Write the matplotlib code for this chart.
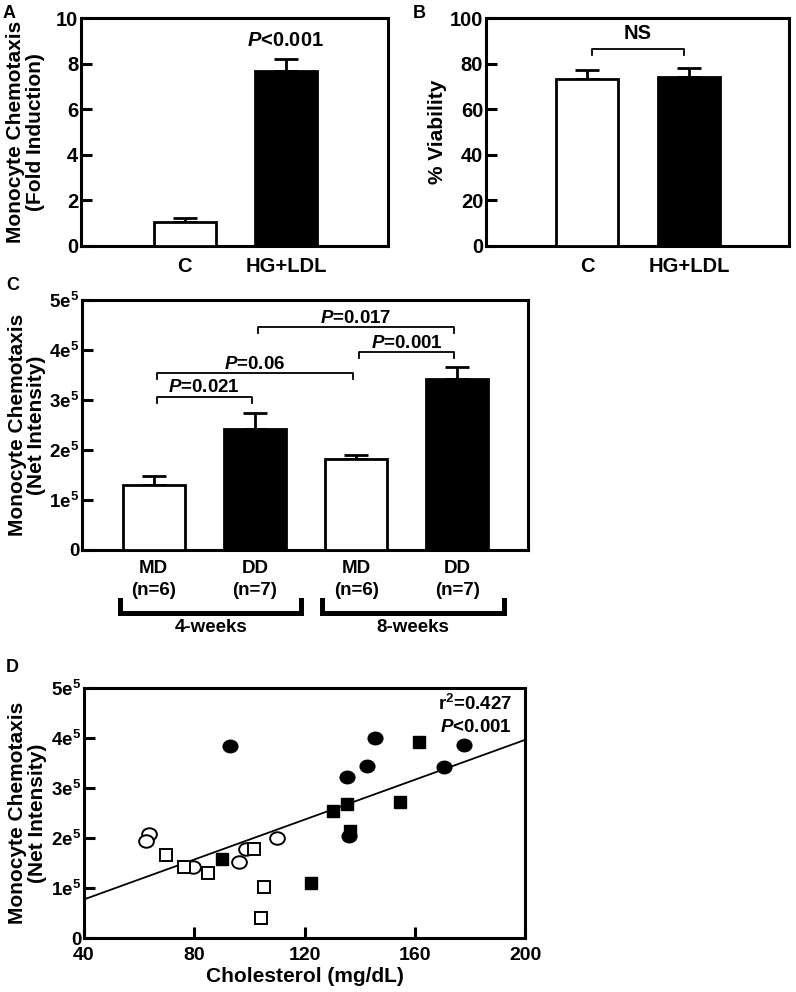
import matplotlib
matplotlib.use("Agg")
import matplotlib.pyplot as plt
from matplotlib.markers import MarkerStyle
from matplotlib.transforms import Affine2D
import numpy as np

plt.rcParams["font.family"] = ["Liberation Sans", "DejaVu Sans"]
plt.rcParams["font.weight"] = "bold"
plt.rcParams["axes.labelweight"] = "bold"
plt.rcParams["mathtext.fontset"] = "custom"
plt.rcParams["mathtext.rm"] = "Liberation Sans:bold"
plt.rcParams["mathtext.it"] = "Liberation Sans:bold:italic"
plt.rcParams["mathtext.bf"] = "Liberation Sans:bold"

# ---- panel A: fold induction ----
a_groups = ["C", "HG+LDL"]
a_means = [1.05, 7.68]
a_errs = [0.15, 0.52]
a_fills = ["white", "black"]
a_pval = "<0.001"

# ---- panel B: viability ----
b_groups = ["C", "HG+LDL"]
b_means = [73.3, 74.0]
b_errs = [4.0, 4.0]
b_fills = ["white", "black"]
b_sig = "NS"

# ---- panel C: net intensity by diet / duration ----
c_groups = ["MD\n(n=6)", "DD\n(n=7)", "MD\n(n=6)", "DD\n(n=7)"]
c_means = [1.30e5, 2.42e5, 1.83e5, 3.43e5]
c_errs = [0.19e5, 0.33e5, 0.08e5, 0.24e5]
c_fills = ["white", "black", "white", "black"]
c_pairs = [(0, 1), (0, 2), (2, 3), (1, 3)]
c_pvals = ["=0.021", "=0.06", "=0.001", "=0.017"]
c_pheights = [3.07e5, 3.55e5, 3.97e5, 4.47e5]
c_periods = ["4-weeks", "8-weeks"]
c_period_span = [(-0.33, 1.46), (1.66, 3.46)]

# ---- panel D: chemotaxis vs cholesterol ----
md4_x = [63.7, 62.5, 79.7, 96.1, 98.9, 110.1]          # open circles
md4_y = [2.09e5, 1.95e5, 1.43e5, 1.53e5, 1.79e5, 2.00e5]
md8_x = [69.8, 76.4, 85.0, 101.6, 105.2, 104.2]         # open squares
md8_y = [1.66e5, 1.43e5, 1.31e5, 1.79e5, 1.02e5, 0.41e5]
dd4_x = [92.8, 145.5, 177.7, 142.5, 170.7, 135.3, 136.2]  # filled circles
dd4_y = [3.85e5, 4.00e5, 3.87e5, 3.45e5, 3.43e5, 3.22e5, 2.05e5]
dd8_x = [90.2, 161.7, 135.5, 130.4, 154.7, 136.5, 122.4]  # filled squares
dd8_y = [1.58e5, 3.93e5, 2.69e5, 2.55e5, 2.72e5, 2.15e5, 1.10e5]
fit_slope = 1994.0
fit_intercept = -1960.0
r2_text = "0.427"
d_pval = "<0.001"

e5_ticks = [0, 1e5, 2e5, 3e5, 4e5, 5e5]
e5_labels = ["0"] + [r"$\mathrm{%de}^{5}$" % k for k in range(1, 6)]

FS_AB = 14.5   # panels A/B are drawn a bit wider in the source figure
FS = 13.5
FS_LAB = 15
SPINE = 2.2


def style_box(ax, fs):
    for s in ax.spines.values():
        s.set_linewidth(SPINE)
    ax.tick_params(axis="y", direction="in", length=8, width=2.2, pad=2,
                   labelsize=fs)


def bars(ax, means, errs, fills, width):
    x = np.arange(len(means))
    ax.bar(x, means, width=width, color=fills, edgecolor="black",
           linewidth=2.0, zorder=3)
    ax.errorbar(x, means, yerr=[np.zeros(len(errs)), errs], fmt="none",
                ecolor="black", elinewidth=2.0, capsize=8.5, capthick=2.0,
                zorder=2)
    return x


def bracket(ax, x0, x1, y, drop, label, gap, fs, inset=0.03):
    ax.plot([x0 + inset, x0 + inset, x1 - inset, x1 - inset],
            [y - drop, y, y, y - drop], color="black", lw=1.3)
    ax.text((x0 + x1) / 2, y + gap, label, ha="center", va="baseline",
            fontsize=fs)


fig = plt.figure(figsize=(7.96, 9.92), dpi=100)

# A
axA = fig.add_axes([81 / 796, 1 - 245.7 / 992, 307 / 796, 227.4 / 992])
xa = bars(axA, a_means, a_errs, a_fills, 0.61)
axA.set_xlim(-1.026, 2.01)
axA.set_ylim(0, 10)
axA.set_yticks([0, 2, 4, 6, 8, 10])
axA.set_xticks(xa)
axA.set_xticklabels(a_groups)
axA.tick_params(axis="x", length=0, pad=8, labelsize=FS_AB)
style_box(axA, FS_AB)
axA.text(xa[1], 8.8, "$P$" + a_pval, ha="center", va="baseline", fontsize=FS_AB)
axA.set_ylabel("Monocyte Chemotaxis\n(Fold Induction)", fontsize=FS_LAB,
               linespacing=1.05)
axA.yaxis.set_label_coords(-0.117, 0.5)
fig.text(9 / 796, 1 - 13 / 992, "A", fontsize=13, ha="center", va="center")

# B
axB = fig.add_axes([486 / 796, 1 - 245.7 / 992, 303 / 796, 227.4 / 992])
xb = bars(axB, b_means, b_errs, b_fills, 0.61)
axB.set_xlim(-0.99, 1.98)
axB.set_ylim(0, 100)
axB.set_yticks([0, 20, 40, 60, 80, 100])
axB.set_xticks(xb)
axB.set_xticklabels(b_groups)
axB.tick_params(axis="x", length=0, pad=8, labelsize=FS_AB)
style_box(axB, FS_AB)
bracket(axB, 0, 1, 86.4, 2.5, b_sig, 4.4, FS_AB, inset=0.045)
axB.set_ylabel("% Viability", fontsize=FS_LAB)
axB.yaxis.set_label_coords(-0.128, 0.5)
fig.text(419 / 796, 1 - 13 / 992, "B", fontsize=13, ha="center", va="center")

# C
axC = fig.add_axes([82 / 796, 1 - 550 / 992, 446 / 796, 250 / 992])
xc = bars(axC, c_means, c_errs, c_fills, 0.61)
axC.set_xlim(-0.71, 3.70)
axC.set_ylim(0, 5e5)
axC.set_yticks(e5_ticks)
axC.set_yticklabels(e5_labels)
axC.set_xticks(xc)
axC.set_xticklabels(c_groups, linespacing=1.4)
axC.tick_params(axis="x", length=0, pad=7, labelsize=FS)
style_box(axC, FS)
for (i, j), p, h in zip(c_pairs, c_pvals, c_pheights):
    bracket(axC, xc[i], xc[j], h, 0.12e5, "$P$" + p, 0.08e5, FS)
trC = axC.get_xaxis_transform()
for (x0, x1), name in zip(c_period_span, c_periods):
    axC.plot([x0, x0, x1, x1], [-0.20, -0.253, -0.253, -0.20], color="black",
             lw=3.6, transform=trC, clip_on=False, solid_joinstyle="miter")
    axC.text((x0 + x1) / 2, -0.278, name, transform=trC, ha="center",
             va="top", fontsize=FS)
axC.set_ylabel("Monocyte Chemotaxis\n(Net Intensity)", fontsize=FS_LAB,
               linespacing=1.05)
axC.yaxis.set_label_coords(-0.08, 0.5)
fig.text(13 / 796, 1 - 286 / 992, "C", fontsize=13, ha="center", va="center")

# D
axD = fig.add_axes([84 / 796, 1 - 938.3 / 992, 441 / 796, 250 / 992])
ell = MarkerStyle("o", transform=Affine2D().scale(1.18, 1.0))
axD.plot(md4_x, md4_y, linestyle="none", marker=ell, ms=9, mfc="white",
         mec="black", mew=1.4, zorder=3)
axD.plot(md8_x, md8_y, linestyle="none", marker="s", ms=8.5, mfc="white",
         mec="black", mew=1.4, zorder=3)
axD.plot(dd4_x, dd4_y, linestyle="none", marker=ell, ms=9, mfc="black",
         mec="black", mew=1.0, zorder=3)
axD.plot(dd8_x, dd8_y, linestyle="none", marker="s", ms=8.5, mfc="black",
         mec="black", mew=1.0, zorder=3)
fx = np.array([40, 200])
axD.plot(fx, fit_slope * fx + fit_intercept, color="black", lw=1.3, zorder=2)
axD.set_xlim(40, 200)
axD.set_ylim(0, 5e5)
axD.set_xticks([40, 80, 120, 160, 200])
axD.set_yticks(e5_ticks)
axD.set_yticklabels(e5_labels)
style_box(axD, FS)
axD.tick_params(axis="x", direction="in", length=8, width=2.2, pad=6,
                labelsize=14)
axD.text(0.97, 0.913, "r$^{2}$=" + r2_text, transform=axD.transAxes,
         ha="right", va="baseline", fontsize=FS)
axD.text(0.97, 0.826, "$P$" + d_pval, transform=axD.transAxes,
         ha="right", va="baseline", fontsize=FS)
axD.set_xlabel("Cholesterol (mg/dL)", fontsize=FS_LAB)
axD.xaxis.set_label_coords(0.5, -0.115)
axD.set_ylabel("Monocyte Chemotaxis\n(Net Intensity)", fontsize=FS_LAB,
               linespacing=1.05)
axD.yaxis.set_label_coords(-0.085, 0.5)
fig.text(12 / 796, 1 - 668 / 992, "D", fontsize=13, ha="center", va="center")

fig.savefig("out.png", dpi=100)
